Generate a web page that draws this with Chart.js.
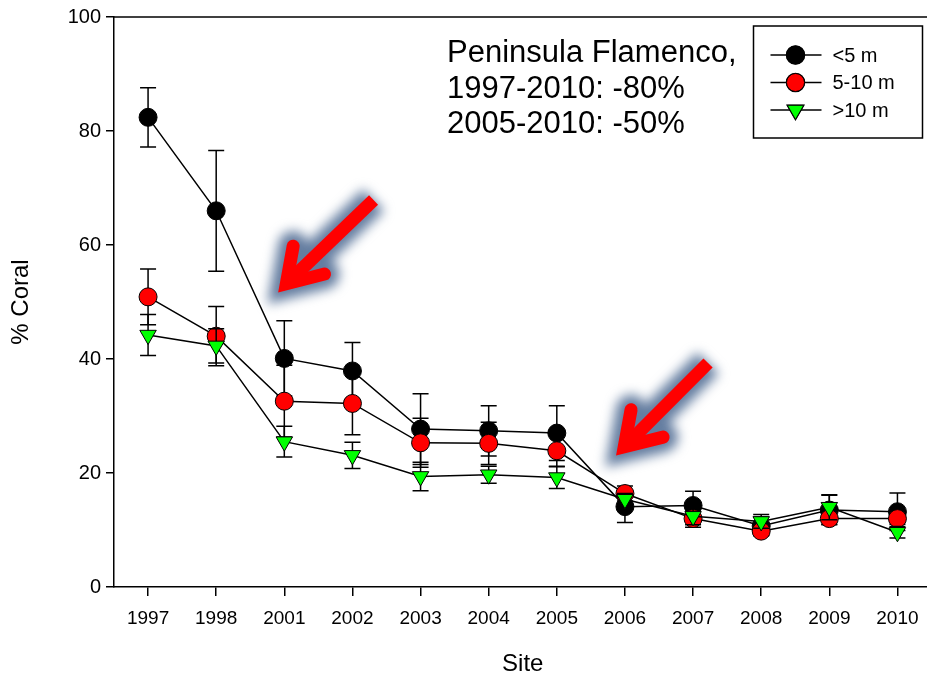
<!DOCTYPE html>
<html>
<head>
<meta charset="utf-8">
<script src="https://cdn.jsdelivr.net/npm/chart.js@4.4.1/dist/chart.umd.min.js"></script>
<style>
  html, body { margin: 0; padding: 0; background: #fff; overflow: hidden; }
  canvas { display: block; }
</style>
</head>
<body>
<canvas id="coral" width="942" height="681"></canvas>
<script>
// Survey years (category axis)
const years = ['1997', '1998', '2001', '2002', '2003', '2004', '2005', '2006', '2007', '2008', '2009', '2010'];

// Mean coral cover (%) by depth band
const coverShallow = [82.4, 66.0, 40.1, 37.9, 27.7, 27.4, 27.0, 14.1, 14.3, 10.7, 13.5, 13.2];
const coverMid     = [50.9, 44.0, 32.6, 32.2, 25.3, 25.2, 23.9, 16.4, 12.0,  9.8, 12.0, 12.0];
const coverDeep    = [44.2, 42.3, 25.5, 23.1, 19.4, 19.7, 19.2, 15.4, 12.4, 11.5, 14.0,  9.6];

// Standard errors for the same points
const seShallow = [5.2, 10.6, 6.6, 5.0, 6.2, 4.4, 4.8, 2.8, 2.5, 1.6, 2.6, 3.3];
const seMid     = [4.9,  5.2, 6.3, 5.5, 4.3, 3.7, 2.7, 1.3, 1.5, 0.8, 1.0, 1.0];
const seDeep    = [3.6,  3.0, 2.7, 2.3, 2.5, 1.5, 1.9, 1.0, 1.5, 1.2, 2.2, 1.0];

const seriesNames = ['<5 m', '5-10 m', '>10 m'];
const noteLines = ['Peninsula Flamenco,', '1997-2010: -80%', '2005-2010: -50%'];

// Arrow callouts, given in axis units (category index, % cover)
const callouts = [
  { tail: [3.31, 67.9], tip: [2.03, 53.2], barbs: [[2.13, 59.8], [2.59, 54.9]] },
  { tail: [8.22, 39.3], tip: [6.99, 24.6], barbs: [[7.09, 31.1], [7.56, 26.3]] }
];

const FONT = "'Liberation Sans', Arial, Helvetica, sans-serif";
const errorSets = [seShallow, seMid, seDeep];

function xAt(chart, idx) {
  const s = chart.scales.x;
  const p0 = s.getPixelForTick(0), p1 = s.getPixelForTick(1);
  return p0 + (p1 - p0) * idx;
}

// Vertical error bars, drawn just before each series so later series sit on top
const errorBars = {
  id: 'errorBars',
  beforeDatasetDraw(chart, args) {
    const ctx = chart.ctx, y = chart.scales.y;
    const errs = errorSets[args.index];
    const vals = chart.data.datasets[args.index].data;
    ctx.save();
    ctx.strokeStyle = '#000';
    ctx.lineWidth = 1.5;
    args.meta.data.forEach((pt, j) => {
      const yt = y.getPixelForValue(vals[j] + errs[j]);
      const yb = y.getPixelForValue(vals[j] - errs[j]);
      const half = 8;
      ctx.beginPath();
      ctx.moveTo(pt.x, yt); ctx.lineTo(pt.x, yb);
      ctx.moveTo(pt.x - half, yt); ctx.lineTo(pt.x + half, yt);
      ctx.moveTo(pt.x - half, yb); ctx.lineTo(pt.x + half, yb);
      ctx.stroke();
    });
    ctx.restore();
  }
};

function arrowLayer(chart, width, color) {
  const y = chart.scales.y;
  const off = document.createElement('canvas');
  off.width = chart.width; off.height = chart.height;
  const o = off.getContext('2d');
  o.strokeStyle = color;
  o.lineWidth = width;
  const P = p => [xAt(chart, p[0]), y.getPixelForValue(p[1])];
  callouts.forEach(c => {
    const t = P(c.tail), h = P(c.tip), b1 = P(c.barbs[0]), b2 = P(c.barbs[1]);
    o.lineCap = 'butt';
    o.beginPath(); o.moveTo(t[0], t[1]); o.lineTo(h[0], h[1]); o.stroke();
    o.lineCap = 'round'; o.lineJoin = 'miter'; o.miterLimit = 10;
    o.beginPath(); o.moveTo(b1[0], b1[1]); o.lineTo(h[0], h[1]); o.lineTo(b2[0], b2[1]); o.stroke();
  });
  return off;
}

// Top frame line, text block, legend box and arrow callouts
const decorations = {
  id: 'decorations',
  beforeDatasetsDraw(chart) {
    const ctx = chart.ctx, a = chart.chartArea;
    ctx.save();
    ctx.strokeStyle = '#000';
    ctx.lineWidth = 1.5;
    ctx.beginPath();
    ctx.moveTo(a.left, a.top);
    ctx.lineTo(a.right, a.top);
    ctx.stroke();
    ctx.restore();

    // blurred steel-blue halo under the red arrows
    const halo = arrowLayer(chart, 30, 'rgb(100, 125, 160)');
    ctx.save();
    ctx.filter = 'blur(6px)';
    ctx.drawImage(halo, 0, 0);
    ctx.restore();
    ctx.drawImage(arrowLayer(chart, 13, '#ff0000'), 0, 0);
  },
  afterDraw(chart) {
    const ctx = chart.ctx, a = chart.chartArea;
    ctx.save();
    ctx.fillStyle = '#000';
    ctx.font = '31px ' + FONT;
    ctx.textBaseline = 'alphabetic';
    ctx.textAlign = 'left';
    noteLines.forEach((s, i) => ctx.fillText(s, a.left + 333, a.top + 45 + i * 35.5));

    // legend
    const bx = a.right - 178, by = a.top + 9, bw = 169, bh = 112;
    ctx.strokeStyle = '#000';
    ctx.lineWidth = 1.5;
    ctx.strokeRect(bx, by, bw, bh);
    ctx.font = '20px ' + FONT;
    ctx.textBaseline = 'middle';
    chart.data.datasets.forEach((ds, i) => {
      const ly = by + 29 + i * 27.5;
      ctx.beginPath();
      ctx.moveTo(bx + 17, ly); ctx.lineTo(bx + 68, ly);
      ctx.lineWidth = 1.5; ctx.strokeStyle = '#000';
      ctx.stroke();
      Chart.helpers.drawPoint(ctx, {
        pointStyle: ds.pointStyle, rotation: ds.pointRotation || 0,
        radius: ds.pointRadius, borderWidth: 1
      }, bx + 42, ly);
      ctx.fillStyle = ds.pointBackgroundColor;
      ctx.strokeStyle = '#000';
      ctx.lineWidth = 1;
      ctx.fill();
      ctx.stroke();
      ctx.fillStyle = '#000';
      ctx.fillText(ds.label, bx + 79, ly + 1);
    });
    ctx.restore();
  }
};

function series(label, data, fill, style, radius, order) {
  return {
    label, data, order,
    borderColor: '#000', borderWidth: 1.5, tension: 0, fill: false,
    pointStyle: style, pointRadius: radius, pointHoverRadius: radius,
    pointRotation: style === 'triangle' ? 180 : 0,
    pointBackgroundColor: fill, pointBorderColor: '#000', pointBorderWidth: 1
  };
}

new Chart(document.getElementById('coral'), {
  type: 'line',
  data: {
    labels: years,
    datasets: [
      series(seriesNames[0], coverShallow, '#000000', 'circle', 9, 3),
      series(seriesNames[1], coverMid, '#ff0000', 'circle', 9, 2),
      series(seriesNames[2], coverDeep, '#00ff00', 'triangle', 9.5, 1)
    ]
  },
  options: {
    responsive: false,
    animation: false,
    devicePixelRatio: 1,
    layout: { padding: { top: 17, right: 1, left: 0, bottom: 0 } },
    plugins: { legend: { display: false }, tooltip: { enabled: false } },
    scales: {
      x: {
        type: 'category',
        offset: true,
        grid: { display: true, drawOnChartArea: false, offset: false, color: '#000', lineWidth: 1.5, tickLength: 9 },
        border: { display: true, color: '#000', width: 1.5 },
        ticks: { color: '#000', font: { family: FONT, size: 19 }, padding: 11, maxRotation: 0, autoSkip: false },
        title: { display: true, text: 'Site', color: '#000', font: { family: FONT, size: 24 }, padding: { top: 4, bottom: 2 } },
        afterFit: s => { s.height = 94; }
      },
      y: {
        min: 0, max: 100,
        grid: { display: true, drawOnChartArea: false, color: '#000', lineWidth: 1.5, tickLength: 8 },
        border: { display: true, color: '#000', width: 1.5 },
        ticks: { stepSize: 20, color: '#000', font: { family: FONT, size: 20 }, padding: 5 },
        title: { display: true, text: '% Coral', color: '#000', font: { family: FONT, size: 24 }, padding: { top: 7, bottom: 0 } },
        afterFit: s => { s.width = 114; }
      }
    }
  },
  plugins: [errorBars, decorations]
});
</script>
</body>
</html>
